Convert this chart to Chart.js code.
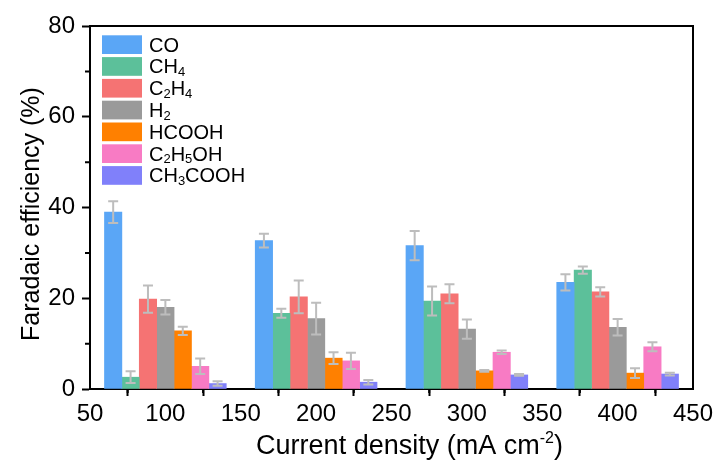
<!DOCTYPE html>
<html>
<head>
<meta charset="utf-8">
<script src="https://cdn.jsdelivr.net/npm/chart.js@4/dist/chart.umd.min.js"></script>
<style>
  html, body { margin: 0; padding: 0; background: #fff; }
  #wrap { width: 718px; height: 464px; }
</style>
</head>
<body>
<div id="wrap"><canvas id="feChart" width="718" height="464"></canvas></div>
<script>
// current densities (mA cm-2)
const currentDensity = [100, 200, 300, 400];

const productNames = ["CO", "CH₄", "C₂H₄", "H₂", "HCOOH", "C₂H₅OH", "CH₃COOH"];
const productColors = ["#5aa6f6", "#5cc09a", "#f57373", "#9a9a9a", "#ff8000", "#f87bc4", "#8080fa"];

// Faradaic efficiency (%) and error per product
const feCO = [39.0, 32.7, 31.6, 23.5];
const errCO = [2.4, 1.5, 3.2, 1.8];
const feCH4 = [2.6, 16.7, 19.4, 26.2];
const errCH4 = [1.3, 1.0, 3.2, 0.8];
const feC2H4 = [19.8, 20.3, 21.0, 21.4];
const errC2H4 = [3.0, 3.6, 2.1, 1.0];
const feH2 = [18.0, 15.5, 13.2, 13.6];
const errH2 = [1.6, 3.5, 2.1, 1.8];
const feHCOOH = [12.8, 6.8, 4.0, 3.5];
const errHCOOH = [0.9, 1.3, 0.2, 1.1];
const feC2H5OH = [5.0, 6.2, 8.1, 9.3];
const errC2H5OH = [1.7, 1.8, 0.4, 1.0];
const feCH3COOH = [1.2, 1.5, 3.1, 3.3];
const errCH3COOH = [0.5, 0.5, 0.2, 0.3];

const feSeries = [feCO, feCH4, feC2H4, feH2, feHCOOH, feC2H5OH, feCH3COOH];
const errSeries = [errCO, errCH4, errC2H4, errH2, errHCOOH, errC2H5OH, errCH3COOH];

const FONT = "'Liberation Sans', Arial, sans-serif";
const SUB = "₀₁₂₃₄₅₆₇₈₉";

// draws "CH₄" style text with real lowered, smaller digits (alphabetic baseline)
function drawChem(ctx, text, x, y, size) {
  let cx = x;
  for (const ch of text) {
    const k = SUB.indexOf(ch);
    if (k >= 0) {
      ctx.font = Math.round(size * 0.66) + "px " + FONT;
      ctx.fillText(String(k), cx, y + size * 0.14);
      cx += ctx.measureText(String(k)).width;
    } else {
      ctx.font = size + "px " + FONT;
      ctx.fillText(ch, cx, y);
      cx += ctx.measureText(ch).width;
    }
  }
}

const errorBars = {
  id: "errorBars",
  afterDatasetsDraw(chart) {
    const ctx = chart.ctx;
    const y = chart.scales.y;
    ctx.save();
    ctx.strokeStyle = "#bdbdbd";
    ctx.lineWidth = 2;
    chart.data.datasets.forEach((ds, i) => {
      const meta = chart.getDatasetMeta(i);
      meta.data.forEach((bar, j) => {
        const v = ds.data[j].y;
        const e = errSeries[i][j];
        const top = y.getPixelForValue(v + e);
        const bot = y.getPixelForValue(Math.max(v - e, 0));
        ctx.beginPath();
        ctx.moveTo(bar.x, top); ctx.lineTo(bar.x, bot);
        ctx.moveTo(bar.x - 5, top); ctx.lineTo(bar.x + 5, top);
        ctx.moveTo(bar.x - 5, bot); ctx.lineTo(bar.x + 5, bot);
        ctx.stroke();
      });
    });
    ctx.restore();
  }
};

const frameAndLabels = {
  id: "frameAndLabels",
  afterDraw(chart) {
    const ctx = chart.ctx;
    const a = chart.chartArea;
    const xs = chart.scales.x, ys = chart.scales.y;
    ctx.save();
    ctx.strokeStyle = "#000";
    ctx.lineWidth = 2;
    // top and right frame
    ctx.beginPath();
    ctx.moveTo(a.left, a.top); ctx.lineTo(a.right, a.top); ctx.lineTo(a.right, a.bottom);
    ctx.stroke();

    // minor ticks halfway between major ticks
    ctx.beginPath();
    for (let i = 1; i < xs.ticks.length; i++) {
      const px = xs.getPixelForValue((xs.ticks[i - 1].value + xs.ticks[i].value) / 2);
      ctx.moveTo(px, a.bottom); ctx.lineTo(px, a.bottom + 4);
    }
    for (let i = 1; i < ys.ticks.length; i++) {
      const py = ys.getPixelForValue((ys.ticks[i - 1].value + ys.ticks[i].value) / 2);
      ctx.moveTo(a.left, py); ctx.lineTo(a.left - 5, py);
    }
    ctx.stroke();

    // legend
    ctx.textBaseline = "alphabetic";
    ctx.textAlign = "left";
    chart.data.datasets.forEach((ds, i) => {
      const top = a.top + 9.3 + i * 21.8;
      ctx.fillStyle = ds.backgroundColor;
      ctx.fillRect(a.left + 12, top, 40, 18.7);
      ctx.fillStyle = "#000";
      drawChem(ctx, ds.label, a.left + 59, top + 16.2, 20);
    });

    // x axis title with superscript
    const size = 27;
    const supSize = 16;
    ctx.font = size + "px " + FONT;
    const pre = "Current density (mA cm";
    const sup = "-2";
    const post = ")";
    const wPre = ctx.measureText(pre).width;
    const wPost = ctx.measureText(post).width;
    ctx.font = supSize + "px " + FONT;
    const wSup = ctx.measureText(sup).width;
    let tx = 409.5 - (wPre + wSup + wPost) / 2;
    const ty = 454;
    ctx.font = size + "px " + FONT;
    ctx.fillText(pre, tx, ty);
    tx += wPre;
    ctx.font = supSize + "px " + FONT;
    ctx.fillText(sup, tx, ty - 11);
    tx += wSup;
    ctx.font = size + "px " + FONT;
    ctx.fillText(post, tx, ty);

    // y axis title
    ctx.translate(32, 214);
    ctx.rotate(-Math.PI / 2);
    ctx.textAlign = "center";
    ctx.textBaseline = "middle";
    ctx.font = "25px " + FONT;
    ctx.fillText("Faradaic efficiency (%)", 0, 0);
    ctx.restore();
  }
};

const datasets = productNames.map((name, i) => ({
  label: name,
  data: currentDensity.map((x, j) => ({ x: x, y: feSeries[i][j] })),
  backgroundColor: productColors[i],
  borderWidth: 0,
  barThickness: 17.4
}));

new Chart(document.getElementById("feChart"), {
  type: "bar",
  data: { datasets: datasets },
  options: {
    responsive: false,
    animation: false,
    layout: { padding: { top: 26, right: 25, left: 0, bottom: 0 } },
    plugins: { legend: { display: false }, tooltip: { enabled: false } },
    scales: {
      x: {
        type: "linear",
        min: 50,
        max: 450,
        offset: false,
        ticks: { stepSize: 50, color: "#000", font: { family: FONT, size: 24 }, padding: 4, maxRotation: 0 },
        grid: { drawOnChartArea: false, drawTicks: true, tickLength: 7, tickWidth: 2, tickColor: "#000" },
        border: { display: true, color: "#000", width: 2 },
        afterFit(scale) { scale.height = 75; }
      },
      y: {
        min: 0,
        max: 80,
        ticks: { stepSize: 20, color: "#000", font: { family: FONT, size: 24 }, padding: 7 },
        grid: { drawOnChartArea: false, drawTicks: true, tickLength: 8, tickWidth: 2, tickColor: "#000" },
        border: { display: true, color: "#000", width: 2 },
        afterFit(scale) { scale.width = 90; }
      }
    }
  },
  plugins: [errorBars, frameAndLabels]
});
</script>
</body>
</html>
